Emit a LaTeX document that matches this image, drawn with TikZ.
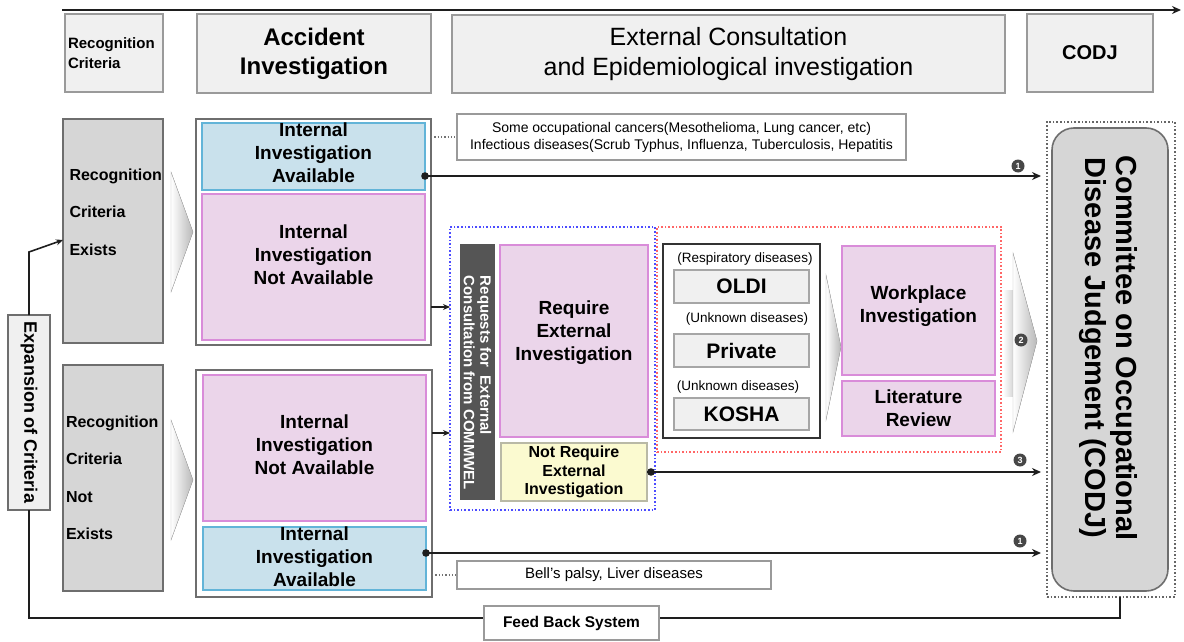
\documentclass[tikz,border=0pt]{standalone}
\usepackage{fontspec}
\setmainfont{Liberation Sans}
\usetikzlibrary{arrows.meta}
\definecolor{hdrfill}{HTML}{F0F0F0}
\definecolor{hdrdraw}{HTML}{9A9A9A}
\definecolor{grayfill}{HTML}{D6D6D6}
\definecolor{graydraw}{HTML}{6E6E6E}
\definecolor{bluefill}{HTML}{C9E1EC}
\definecolor{bluedraw}{HTML}{62B4D8}
\definecolor{pinkfill}{HTML}{EBD5EA}
\definecolor{pinkdraw}{HTML}{D98CD9}
\definecolor{yelfill}{HTML}{FBFAD0}
\definecolor{yeldraw}{HTML}{B9B9A6}
\definecolor{darkbar}{HTML}{555555}
\definecolor{linec}{HTML}{1E1E1E}
\newcommand{\fs}[2]{\fontsize{#1}{#2}\selectfont}
\tikzset{
  box/.style={rectangle, inner sep=0pt, outer sep=0pt},
  hdr/.style={box, fill=hdrfill, draw=hdrdraw, line width=1.3pt, align=center},
  grayc/.style={box, fill=grayfill, draw=graydraw, line width=1.5pt},
  grp/.style={box, fill=white, draw=graydraw, line width=1.5pt},
  bluebox/.style={box, fill=bluefill, draw=bluedraw, line width=1.2pt, align=center, font=\bfseries\fs{19}{23}},
  pinkbox/.style={box, fill=pinkfill, draw=pinkdraw, line width=1.2pt, align=center, font=\bfseries\fs{19}{23}},
  txt19/.style={align=center, font=\bfseries\fs{19}{23}},
  note/.style={box, fill=white, draw=hdrdraw, line width=1.3pt, align=center, font=\fs{14}{17}},
  flow/.style={draw=linec, line width=2.2pt, -{Stealth[length=9pt,width=8pt]}},
  thinflow/.style={draw=linec, line width=1.6pt, -{Stealth[length=7pt,width=6pt]}},
  numc/.style={circle, fill=black!72, text=white, inner sep=0pt, minimum size=13pt, font=\bfseries\fs{9}{9}},
  chev/.style={left color=white, right color=black!28, draw=black!30, line width=0.4pt},
  agency/.style={box, fill=black!6, draw=black!35, line width=1.3pt, font=\bfseries\fs{21}{24}},
  small/.style={font=\fs{13.5}{15}},
  conn/.style={draw=black!55, dotted, line width=1.3pt}
}
\begin{document}
\begin{tikzpicture}[x=1pt,y=-1pt]
\useasboundingbox (0,0) rectangle (1184,642);
% time arrow
\coordinate (tlS) at (62,10);
\coordinate (tlE) at (1181,10);
\draw[line width=2.8pt, draw=linec, -{Stealth[length=9pt,width=8pt]}] (tlS) -- (tlE);

% headers
\node[hdr, minimum width=98pt, minimum height=78pt, text width=92pt, align=left, font=\bfseries\fs{15}{20}] (hRC) at (114,53) {Recognition\\Criteria};
\node[hdr, minimum width=234pt, minimum height=79pt, font=\bfseries\fs{24}{29}] (hAI) at (314,53.5) {Accident\\Investigation};
\node[hdr, minimum width=553pt, minimum height=78pt, font=\fs{25}{30}] (hEC) at (728.5,54) {External Consultation\\and Epidemiological investigation};
\node[hdr, minimum width=126pt, minimum height=78pt, font=\bfseries\fs{20}{24}] (hCO) at (1090,53) {CODJ};

% left criteria columns
\node[grayc, minimum width=100pt, minimum height=224pt] (rcE) at (113,231) {};
\node[anchor=west, align=left, font=\bfseries\fs{16}{37.5}] (rcEt) at (66,212) {Recognition\\Criteria\\Exists};
\node[grayc, minimum width=100pt, minimum height=226pt, text width=94pt, align=left, font=\bfseries\fs{16}{37.5}] (rcN) at (113,478) {Recognition\\Criteria\\Not\\Exists};

% chevrons
\fill[chev] (171,172) -- (193,232) -- (171,292) -- cycle;
\fill[chev] (171,420) -- (193,480) -- (171,540) -- cycle;
\fill[chev] (826,275) -- (841,347) -- (826,420) -- cycle;
\fill[left color=white, right color=black!22] (1003,290) rectangle (1017,396);
\fill[chev] (1013,253) -- (1037,341) -- (1013,432) -- cycle;

% accident investigation groups
\node[grp, minimum width=235pt, minimum height=226pt] (gTop) at (313.5,232) {};
\node[bluebox, minimum width=223pt, minimum height=67pt] (iaTop) at (313.5,156.5) {};
\node[txt19] (iaTopT) at (313.5,153) {Internal\\Investigation\\Available};
\node[pinkbox, minimum width=223pt, minimum height=146pt] (inaTop) at (313.5,267) {};
\node[txt19] (inaTopT) at (313.5,255) {Internal\\Investigation\\Not Available};

\node[grp, minimum width=236pt, minimum height=227pt] (gBot) at (314,483.5) {};
\node[pinkbox, minimum width=223pt, minimum height=146pt] (inaBot) at (314.5,448) {};
\node[txt19] (inaBotT) at (314.5,445) {Internal\\Investigation\\Not Available};
\node[bluebox, minimum width=223pt, minimum height=63pt] (iaBot) at (314.5,558.5) {};
\node[txt19] (iaBotT) at (314.5,557) {Internal\\Investigation\\Available};

% notes
\node[note, minimum width=449pt, minimum height=46pt] (note1) at (681.5,137) {Some occupational cancers(Mesothelioma, Lung cancer, etc)\\Infectious diseases(Scrub Typhus, Influenza, Tuberculosis, Hepatitis};
\node[note, minimum width=314pt, minimum height=28pt, font=\fs{15}{17}] (note2) at (614,575) {Bell's palsy, Liver diseases};
\draw[conn] (gTop.east |- note1.west) -- (note1.west);
\draw[conn] (gBot.east |- note2.west) -- (note2.west);

% external consultation block
\node[box, draw=blue!70, dotted, line width=1.6pt, minimum width=205pt, minimum height=283pt] (bdot) at (552.5,368.5) {};
\node[box, fill=darkbar, minimum width=35pt, minimum height=256pt] (bar) at (477.5,372) {};
\node[rotate=-90, align=left, text=white, font=\bfseries\fs{15}{16.5}] (barT) at (477.5,383) {Requests for\ \ External\\Consultation from COMMWEL};
\node[pinkbox, minimum width=148pt, minimum height=192pt] (req) at (574,341) {};
\node[txt19] (reqT) at (574,333) {Require\\External\\Investigation};
\node[box, fill=yelfill, draw=yeldraw, line width=1.2pt, minimum width=146pt, minimum height=58pt, align=center, font=\bfseries\fs{16}{18.5}] (nreq) at (574,472) {Not Require\\External\\Investigation};

\node[box, draw=red!60, dotted, line width=1.6pt, minimum width=344pt, minimum height=225pt] (rdot) at (829,339.5) {};
\node[box, fill=white, draw=black!80, line width=2.6pt, minimum width=157pt, minimum height=194pt] (agencies) at (741.5,341) {};
\node[small] (lab1) at (745,259) {(Respiratory diseases)};
\node[agency, minimum width=135pt, minimum height=33pt] (oldi) at (741.5,286.5) {OLDI};
\node[small] (lab2) at (747,319) {(Unknown diseases)};
\node[agency, minimum width=135pt, minimum height=33pt] (priv) at (741.5,350.5) {Private};
\node[small] (lab3) at (738,387) {(Unknown diseases)};
\node[agency, minimum width=135pt, minimum height=32pt] (kosha) at (741.5,414) {KOSHA};

\node[pinkbox, minimum width=153pt, minimum height=129pt] (work) at (918.5,310.5) {};
\node[txt19] (workT) at (918.5,306) {Workplace\\Investigation};
\node[pinkbox, minimum width=153pt, minimum height=55pt] (lit) at (918.5,408.5) {Literature\\Review};

% CODJ
\node[box, draw=black!60, dotted, line width=1.6pt, minimum width=128pt, minimum height=475pt] (codjO) at (1111,359.5) {};
\node[box, fill=grayfill, draw=graydraw, line width=1.6pt, rounded corners=22pt, minimum width=116pt, minimum height=463pt] (codj) at (1110,359.5) {};
\node[rotate=-90, align=center, font=\bfseries\fs{29}{31}] (codjT) at (1108,348) {Committee on Occupational\\Disease Judgement (CODJ)};

% flows to CODJ
\coordinate (s1) at (iaTop.east |- 0,176);
\draw[flow, shorten >=6pt] (s1) -- (codjO.west |- s1);
\fill[linec] (s1) circle (3.8pt);
\coordinate (s3) at (nreq.east);
\draw[flow, shorten >=6pt] (s3) -- (codjO.west |- s3);
\fill[linec] ([xshift=4pt]s3) circle (3.8pt);
\coordinate (s4) at (iaBot.east |- 0,553);
\draw[flow, shorten >=6pt] (s4) -- (codjO.west |- s4);
\fill[linec] (s4) circle (3.8pt);
\node[numc] (n1a) at (1018,166) {1};
\node[numc] (n2) at (1021,340) {2};
\node[numc] (n3) at (1020,460) {3};
\node[numc] (n1b) at (1020,541) {1};

% flows into external consultation
\draw[thinflow] (gTop.east |- 0,307) -- (bdot.west |- 0,307);
\draw[thinflow] (gBot.east |- 0,433) -- (bdot.west |- 0,433);

% expansion of criteria and feedback
\node[box, fill=hdrfill, draw=graydraw, line width=1.5pt, minimum width=42pt, minimum height=195pt] (expn) at (29,412.5) {};
\node[rotate=-90, font=\bfseries\fs{18}{20}] (expnT) at (29,412.5) {Expansion of Criteria};
\draw[thinflow] (expn.north) -- (expn.north |- 0,252) -- (rcE.west |- 0,240);
\draw[draw=linec, line width=2pt] ([xshift=9pt]codjO.south) |- (expn.south |- 0,618) -- (expn.south);
\node[box, fill=white, draw=hdrdraw, line width=1.3pt, minimum width=175pt, minimum height=34pt, font=\bfseries\fs{15.5}{18}] (fb) at (571.5,623) {Feed Back System};
\end{tikzpicture}
\end{document}
